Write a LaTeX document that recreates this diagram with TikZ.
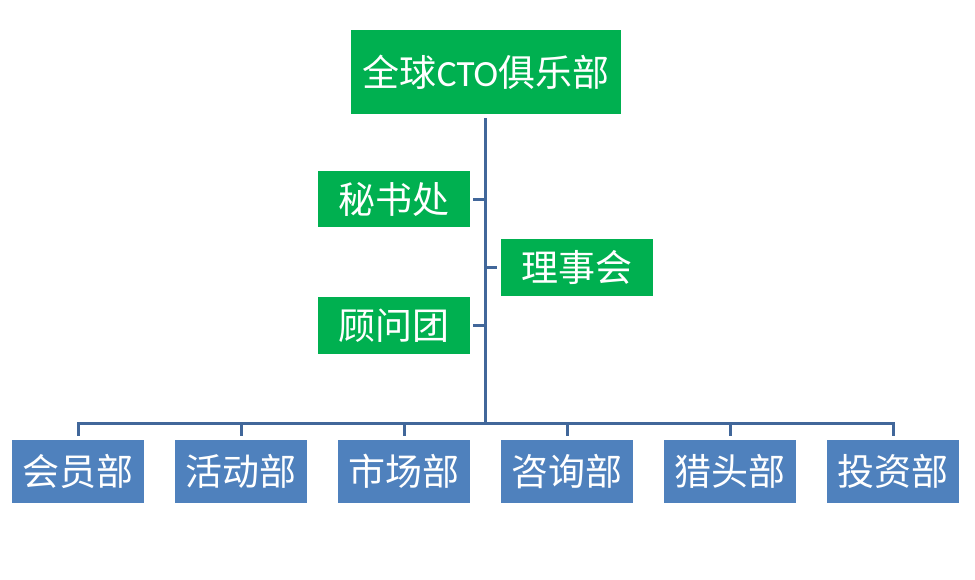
\documentclass[tikz,border=0pt]{standalone}
\usepackage{fontspec}
\setmainfont{Carlito}
\newfontfamily\cjk{Noto Sans CJK SC}
\definecolor{boxgreen}{HTML}{00B050}
\definecolor{boxblue}{HTML}{4F81BD}
\definecolor{linkblue}{RGB}{65,103,154}
\begin{document}
\begin{tikzpicture}[x=1pt,y=-1pt,
  box/.style={fill=#1,text=white,inner sep=0pt,font=\fontsize{37}{40}\selectfont\cjk,anchor=center},
  conn/.style={draw=linkblue,line width=3pt,line join=miter,line cap=rect}]
\useasboundingbox (0,0) rectangle (975,579);
\node[box=boxgreen,minimum width=270pt,minimum height=84pt] (top) at (486,72) {全球{\fontspec{Carlito}CTO}俱乐部};
\node[box=boxgreen,minimum width=152pt,minimum height=56pt] (msc) at (394,199) {秘书处};
\node[box=boxgreen,minimum width=152pt,minimum height=57pt] (lsh) at (577,267.5) {理事会};
\node[box=boxgreen,minimum width=152pt,minimum height=57pt] (gwt) at (394,325.5) {顾问团};
\node[box=boxblue,minimum width=132pt,minimum height=63pt] (b1) at (78,471.5) {会员部};
\node[box=boxblue,minimum width=132pt,minimum height=63pt] (b2) at (241,471.5) {活动部};
\node[box=boxblue,minimum width=132pt,minimum height=63pt] (b3) at (404,471.5) {市场部};
\node[box=boxblue,minimum width=132pt,minimum height=63pt] (b4) at (567,471.5) {咨询部};
\node[box=boxblue,minimum width=132pt,minimum height=63pt] (b5) at (730,471.5) {猎头部};
\node[box=boxblue,minimum width=132pt,minimum height=63pt] (b6) at (893,471.5) {投资部};
\coordinate (trunk) at (485,423);
\coordinate (tt) at (485,118);
\draw[conn,line cap=butt] (tt) -- (trunk);
\draw[conn,line cap=butt] ([xshift=3pt]msc.east) -- (msc.east -| trunk);
\draw[conn,line cap=butt] ([xshift=3pt]gwt.east) -- (gwt.east -| trunk);
\draw[conn,line cap=butt] ([xshift=-4pt]lsh.west) -- (lsh.west -| trunk);
\draw[conn,line cap=butt] ([yshift=4pt]b1.north) |- (trunk) -| ([yshift=4pt]b6.north);
\foreach \b in {b2,b3,b4,b5}{
  \draw[conn,line cap=butt] ([yshift=4pt]\b.north) -- (\b.north |- trunk);
}
\end{tikzpicture}
\end{document}
